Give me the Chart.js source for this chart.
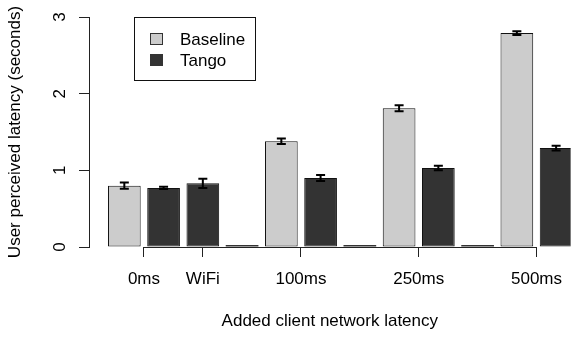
<!DOCTYPE html>
<html>
<head>
<meta charset="utf-8">
<script src="https://cdn.jsdelivr.net/npm/chart.js@4.4.0/dist/chart.umd.min.js"></script>
<style>
  html, body { margin: 0; padding: 0; background: #fff; }
</style>
</head>
<body>
<canvas id="latencyChart" width="574" height="337"></canvas>
<script>
// bars in the order the barplot draws them (null series = empty slot)
const barSeries = ['Baseline', 'Tango', 'Tango', null, 'Baseline', 'Tango', null, 'Baseline', 'Tango', null, 'Baseline', 'Tango'];
const barValues = [0.80, 0.77, 0.83, 0, 1.38, 0.90, 0, 1.81, 1.03, 0, 2.79, 1.29];
const barErrors = [0.04, 0.015, 0.06, null, 0.035, 0.04, null, 0.04, 0.03, null, 0.025, 0.03];

const seriesNames = ['Baseline', 'Tango'];
const seriesColors = ['#cccccc', '#333333'];

// x tick labels and the bars each one sits under
const tickLabels = ['0ms', 'WiFi', '100ms', '250ms', '500ms'];
const tickBars = [[1, 2], [3], [5, 6], [8, 9], [11, 12]];
const yTicks = [0, 1, 2, 3];

const FONT = '"Liberation Sans", Arial, Helvetica, sans-serif';
Chart.defaults.font.family = FONT;
Chart.defaults.font.size = 17;
Chart.defaults.color = '#000';

function pointsFor(name) {
  const pts = [];
  barValues.forEach((v, i) => {
    if (barSeries[i] === name) pts.push({ x: i + 1, y: v, err: barErrors[i] });
  });
  return pts;
}

const datasets = seriesNames.map((name, k) => ({
  label: name,
  data: pointsFor(name),
  backgroundColor: seriesColors[k],
  borderColor: '#111',
  borderWidth: 1,
  borderSkipped: false
}));
// empty slots, drawn as flat bars on the baseline
datasets.push({
  label: '',
  data: pointsFor(null),
  backgroundColor: '#333',
  borderWidth: 0,
  minBarLength: 2
});

const tickValues = tickBars.map(b => b.reduce((a, c) => a + c, 0) / b.length);

// error bars
const errorBars = {
  id: 'errorBars',
  afterDatasetsDraw(chart) {
    const ctx = chart.ctx, y = chart.scales.y;
    ctx.save();
    ctx.strokeStyle = '#000';
    ctx.lineWidth = 2;
    chart.data.datasets.forEach((ds, di) => {
      const meta = chart.getDatasetMeta(di);
      ds.data.forEach((p, j) => {
        if (p.err == null) return;
        const x = meta.data[j].x;
        const top = y.getPixelForValue(p.y + p.err);
        const bot = y.getPixelForValue(p.y - p.err);
        ctx.beginPath();
        ctx.moveTo(x, top); ctx.lineTo(x, bot);
        ctx.moveTo(x - 4.5, top); ctx.lineTo(x + 4.5, top);
        ctx.moveTo(x - 4.5, bot); ctx.lineTo(x + 4.5, bot);
        ctx.stroke();
      });
    });
    ctx.restore();
  }
};

// axis extras: x axis line between outer ticks, rotated y labels, boxed legend
const axisExtras = {
  id: 'axisExtras',
  beforeDatasetsDraw(chart) {
    const ctx = chart.ctx, xs = chart.scales.x, area = chart.chartArea;
    const t = xs.ticks;
    ctx.save();
    ctx.strokeStyle = '#222';
    ctx.lineWidth = 1;
    ctx.beginPath();
    ctx.moveTo(xs.getPixelForValue(t[0].value), area.bottom + 0.5);
    ctx.lineTo(xs.getPixelForValue(t[t.length - 1].value), area.bottom + 0.5);
    ctx.stroke();
    ctx.restore();
  },
  afterDraw(chart) {
    const ctx = chart.ctx, ys = chart.scales.y, area = chart.chartArea;
    ctx.save();
    ctx.fillStyle = '#000';
    ctx.font = '17px ' + FONT;
    ctx.textAlign = 'center';
    ctx.textBaseline = 'middle';
    yTicks.forEach(v => {
      ctx.save();
      ctx.translate(area.left - 29, ys.getPixelForValue(v));
      ctx.rotate(-Math.PI / 2);
      ctx.fillText(String(v), 0, 0);
      ctx.restore();
    });

    // legend
    const bx = area.left + 45.5, by = area.top + 0.5;
    ctx.strokeStyle = '#111';
    ctx.lineWidth = 1;
    ctx.strokeRect(bx, by, 121, 63);
    ctx.textAlign = 'left';
    seriesNames.forEach((name, k) => {
      const cy = by + 21.5 + k * 21;
      ctx.fillStyle = seriesColors[k];
      ctx.fillRect(bx + 16, cy - 5.5, 12, 11);
      ctx.strokeStyle = '#333';
      ctx.strokeRect(bx + 16, cy - 5.5, 12, 11);
      ctx.fillStyle = '#000';
      ctx.fillText(name, bx + 45.5, cy + 1);
    });
    ctx.restore();
  }
};

new Chart(document.getElementById('latencyChart').getContext('2d'), {
  type: 'bar',
  data: { datasets: datasets },
  options: {
    responsive: false,
    animation: false,
    events: [],
    layout: { padding: { top: 17, left: 0, right: 0, bottom: 0 } },
    datasets: {
      bar: { barPercentage: 0.833, categoryPercentage: 1 }
    },
    scales: {
      x: {
        type: 'linear',
        stacked: true,
        offset: false,
        min: 0.1,
        max: 12.37,
        afterBuildTicks: scale => { scale.ticks = tickValues.map(v => ({ value: v })); },
        afterFit: scale => { scale.height = 90; },
        ticks: {
          autoSkip: false,
          maxRotation: 0,
          padding: 12,
          callback: (value, index) => tickLabels[index]
        },
        grid: { offset: false, drawOnChartArea: false, tickLength: 10, color: '#222' },
        border: { display: false },
        title: {
          display: true,
          text: 'Added client network latency',
          padding: { top: 4, bottom: 5 }
        }
      },
      y: {
        min: 0,
        max: 3,
        afterBuildTicks: scale => { scale.ticks = yTicks.map(v => ({ value: v })); },
        afterFit: scale => { scale.width = 89; },
        ticks: { display: false },
        grid: { drawOnChartArea: false, tickLength: 10, color: '#222' },
        border: { display: true, color: '#222', width: 1 },
        title: {
          display: true,
          text: 'User perceived latency (seconds)',
          padding: { top: 5, bottom: 4 }
        }
      }
    },
    plugins: {
      legend: { display: false },
      tooltip: { enabled: false }
    }
  },
  plugins: [errorBars, axisExtras]
});
</script>
</body>
</html>
